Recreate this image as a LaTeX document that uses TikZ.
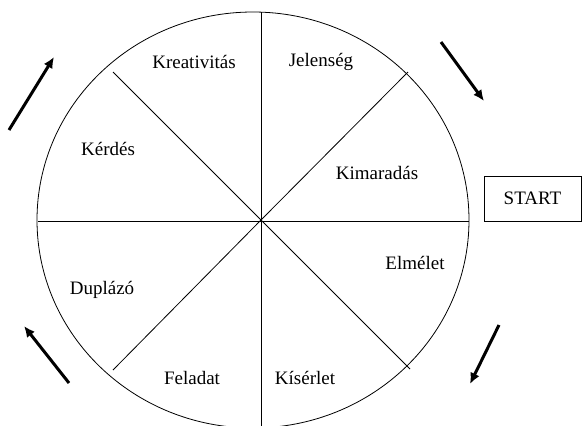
\documentclass[tikz,border=0pt]{standalone}
\usepackage{fontspec}
\setmainfont{Liberation Serif}
\usetikzlibrary{arrows.meta,positioning}

\begin{document}
\begin{tikzpicture}[
  x=1pt, y=-1pt,
  font=\fontsize{19}{21}\selectfont,
  spoke/.style={line width=0.8pt},
  lbl/.style={inner sep=0pt},
  startbox/.style={draw, line width=0.9pt, minimum width=97pt, minimum height=45pt},
  turn/.style={-{Latex[length=11pt,width=10pt]}, line width=3pt}]
\clip (0,0) rectangle (582,426);
\useasboundingbox (0,0) rectangle (582,426);
\draw[spoke] (253,220) ellipse [x radius=216pt, y radius=208pt];
% spokes
\coordinate (c) at (261,220);
\coordinate (top) at (261,12);
\coordinate (bot) at (261,430);
\coordinate (lft) at (38,221);
\coordinate (rgt) at (469,221);
\coordinate (ul) at (113,72);
\coordinate (ur) at (408,72);
\coordinate (lr) at (410,369);
\coordinate (ll) at (113,370);
\draw[spoke] (top) -- (bot);
\draw[spoke] (lft) -- (rgt);
\draw[spoke] (ul) -- (c) -- (lr);
\draw[spoke] (ll) -- (c) -- (ur);
% segments
\node[lbl] (kreativitas) at (194,62) {Kreativitás};
\node[lbl] (jelenseg) at (321,62) {Jelenség};
\node[lbl] (kerdes) at (108,149) {Kérdés};
\node[lbl] (kimaradas) at (377,173) {Kimaradás};
\node[lbl] (elmelet) at (415,263) {Elmélet};
\node[lbl] (duplazo) at (102,290) {Duplázó};
\node[lbl] (feladat) at (192,378) {Feladat};
\node[lbl] (kiserlet) at (305,378) {Kísérlet};
\node[startbox] (start) at (532.5,198.5) {START};
% direction arrows
\coordinate (a1s) at (9,130);   \coordinate (a1e) at (54,57);
\coordinate (a2s) at (441,42);  \coordinate (a2e) at (484,101);
\coordinate (a3s) at (499,325); \coordinate (a3e) at (470,384);
\coordinate (a4s) at (69,383);  \coordinate (a4e) at (24,326);
\draw[turn] (a1s) -- (a1e);
\draw[turn] (a2s) -- (a2e);
\draw[turn] (a3s) -- (a3e);
\draw[turn] (a4s) -- (a4e);
\end{tikzpicture}
\end{document}
